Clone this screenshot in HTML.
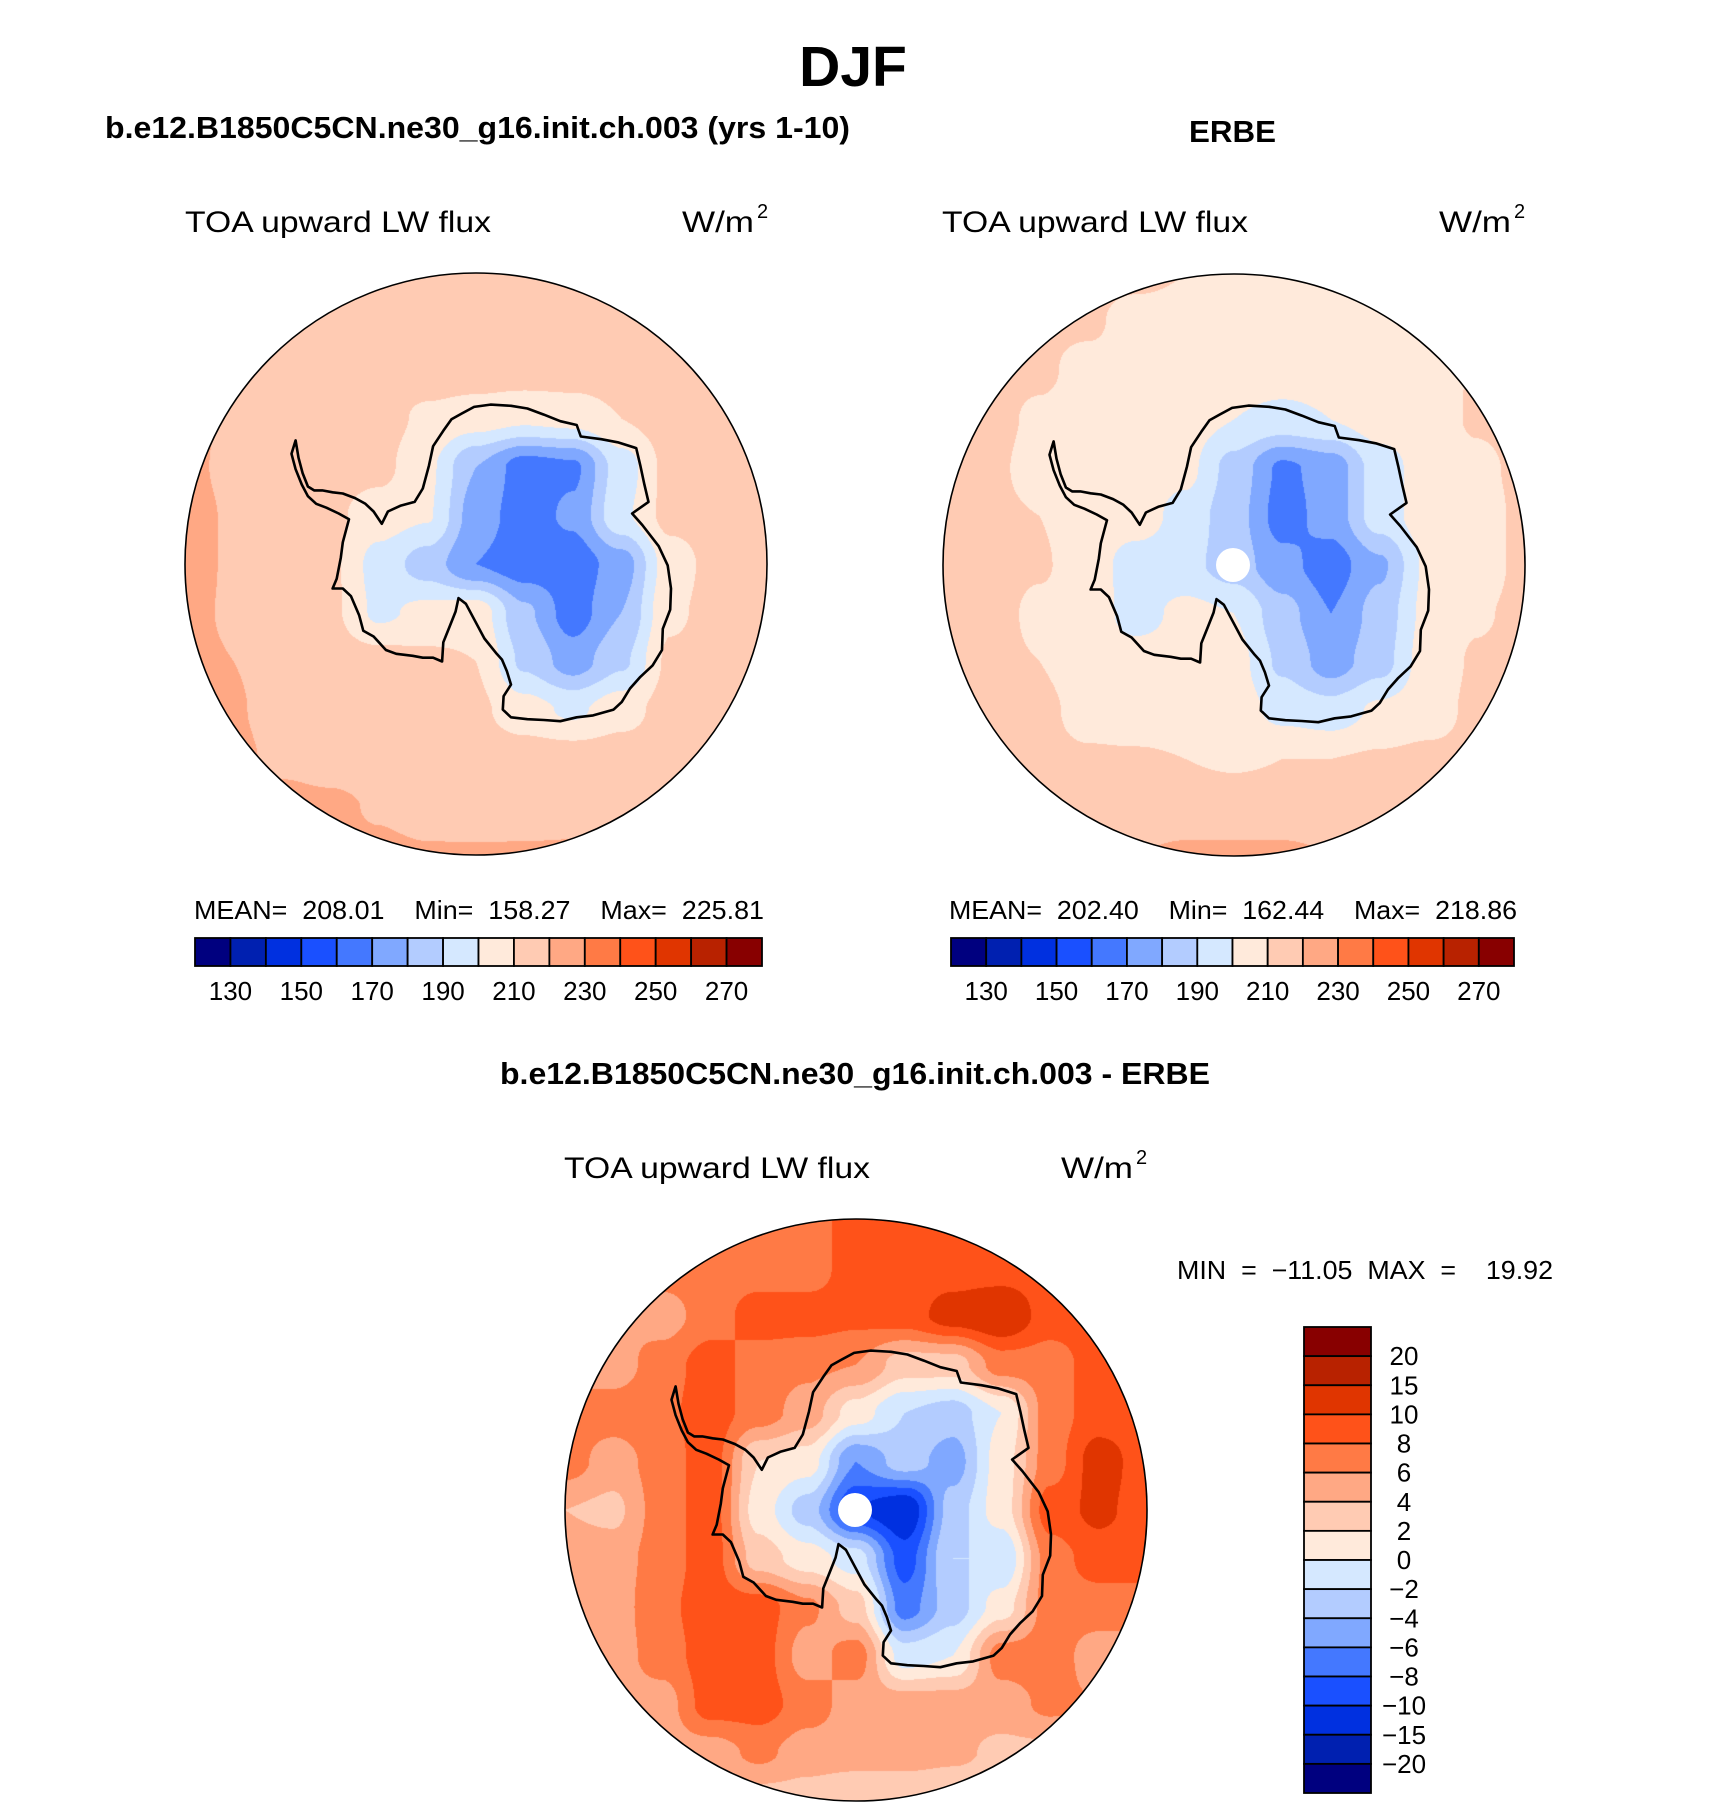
<!DOCTYPE html>
<html><head><meta charset="utf-8"><title>DJF TOA upward LW flux</title>
<style>
html,body{margin:0;padding:0;background:#fff;}
#root{position:relative;width:1710px;height:1806px;overflow:hidden;background:#fff;}
canvas{position:absolute;}
svg{position:absolute;left:0;top:0;}
text{font-family:"Liberation Sans",sans-serif;fill:#000;white-space:pre;}
.b{font-weight:bold;}
</style></head>
<body>
<div id="root">
<canvas id="mapL"></canvas>
<canvas id="mapR"></canvas>
<canvas id="mapD"></canvas>
<svg id="ov" width="1710" height="1806" viewBox="0 0 1710 1806">
<text x="853" y="86" text-anchor="middle" class="b" font-size="57">DJF</text>
<text x="105" y="138" class="b" font-size="31" textLength="745" lengthAdjust="spacingAndGlyphs">b.e12.B1850C5CN.ne30_g16.init.ch.003 (yrs 1-10)</text>
<text x="1189" y="142" class="b" font-size="31" textLength="87" lengthAdjust="spacingAndGlyphs">ERBE</text>
<text x="500" y="1084" class="b" font-size="31" textLength="710" lengthAdjust="spacingAndGlyphs">b.e12.B1850C5CN.ne30_g16.init.ch.003 - ERBE</text>

<text x="185" y="232" font-size="30" textLength="306" lengthAdjust="spacingAndGlyphs">TOA upward LW flux</text>
<text x="682" y="232" font-size="30" textLength="72" lengthAdjust="spacingAndGlyphs">W/m</text>
<text x="757" y="218" font-size="20">2</text>
<text x="942" y="232" font-size="30" textLength="306" lengthAdjust="spacingAndGlyphs">TOA upward LW flux</text>
<text x="1439" y="232" font-size="30" textLength="72" lengthAdjust="spacingAndGlyphs">W/m</text>
<text x="1514" y="218" font-size="20">2</text>
<text x="564" y="1178" font-size="30" textLength="306" lengthAdjust="spacingAndGlyphs">TOA upward LW flux</text>
<text x="1061" y="1178" font-size="30" textLength="72" lengthAdjust="spacingAndGlyphs">W/m</text>
<text x="1136" y="1164" font-size="20">2</text>

<text x="194" y="919" font-size="26" textLength="570" lengthAdjust="spacingAndGlyphs">MEAN=  208.01    Min=  158.27    Max=  225.81</text>
<text x="949" y="919" font-size="26" textLength="568" lengthAdjust="spacingAndGlyphs">MEAN=  202.40    Min=  162.44    Max=  218.86</text>
<text x="1177" y="1279" font-size="26" textLength="376" lengthAdjust="spacingAndGlyphs">MIN  =  −11.05  MAX  =    19.92</text>
<g id="overlayDyn"></g>
</svg>
</div>
<script>
// ---- data ----
const absColors = ["#00007f","#0020b0","#0030e0","#1a50ff","#4478ff","#80a8ff","#b3ccff","#d5e8ff","#ffeadb","#ffcbb3","#ffa884","#ff7a45","#ff5219","#e03500","#b82200","#880000"];
const absLevels = [130,140,150,160,170,180,190,200,210,220,230,240,250,260,270];
const absTickLabels = ["130","150","170","190","210","230","250","270"];
const diffLevels = [-20,-15,-10,-8,-6,-4,-2,0,2,4,6,8,10,15,20];
const diffTickLabels = ["20","15","10","8","6","4","2","0","−2","−4","−6","−8","−10","−15","−20"];

const modelGrid = [
[222,222,220,217,216,216,216,216,216,216,216,216,216],
[222,222,218,216,216,216,216,216,216,216,216,216,216],
[222,221,216,215,215,215,215,215,215,215,215,215,216],
[222,219,215,214,214,208,205,202,204,210,215,215,216],
[222,218,215,214,213,202,180,165,168,195,213,215,216],
[223,219,215,212,205,201,175,165,172,198,213,215,216],
[223,219,215,212,196,185,170,164,164,175,205,214,216],
[222,219,215,212,198,203,206,182,165,180,208,214,216],
[222,220,216,215,214,212,210,188,175,188,212,215,216],
[223,221,216,215,215,214,212,204,198,206,214,215,217],
[223,222,218,216,215,215,215,215,215,215,215,216,219],
[223,223,223,222,219,216,215,216,217,219,220,221,222],
[223,223,223,223,222,221,221,221,221,221,222,222,222]];

const erbeGrid = [
[213,213,213,213,213,210,206,206,206,206,206,207,208],
[212,212,212,212,205,205,205,205,205,205,205,206,207],
[213,213,212,206,205,205,205,205,205,205,205,211,212],
[213,213,208,205,205,205,200,197,200,205,206,211,213],
[213,212,206,205,205,203,186,168,174,195,205,208,212],
[213,212,210,205,205,196,184,166,174,195,205,206,212],
[213,213,211,205,195,193,185,173,165,178,202,206,212],
[213,213,208,205,196,203,200,184,170,184,203,209,212],
[213,212,210,205,205,205,204,188,175,186,205,211,213],
[213,213,212,207,205,205,205,197,194,202,206,212,213],
[213,213,212,211,211,210,209,210,210,211,212,212,213],
[214,214,214,214,214,214,214,214,214,214,214,214,214],
[218,218,218,218,220,222,222,222,220,218,218,218,218]];

const diffGrid = [
[8,8,8,8,8,8,8,8,8,8,8,8,8],
[7,7,7,7,7,7,9,9,9,9,9,9,9],
[6,6,5,7,9,9,8.5,9,11,12,9,9,9],
[5,5,7,9,7,6.5,6,3,3,7,7,9,9],
[7,7,7.5,9,7,5,1,-2,-3,0,7,9,9],
[7,5,7,9,2,1,-6,-3,-5,1,7,11,9],
[4,3.5,7,9,1,-3,-10,-12,-3,1,9,10.5,9],
[5,5,7,9,3,1,-1,-9,-2,-2,7,9,9],
[5,5,7.5,9,9,6.5,3,-7,-3,1,7,7,7],
[5,5,7,9,9,5,7,-1,0,7,7,5,5],
[5,5,5,9,9,7,5,5,5,5,6.5,6,6],
[5,5,5,5,6.5,5,5,5,4.5,3.5,3.5,3.5,3.5],
[3,3,3,3,3,3,2,2,2,2,3,3,3]];

// Antarctic coastline (traced, reference-pixel coordinates of the left panel)
const coastRaw = [[355,495],[362,540],[372,580],[385,615],[400,625],[420,625],[445,630],[470,633],[500,645],[525,660],[545,680],[565,712],[580,680],[610,665],[645,655],[665,620],[680,560],[690,510],[715,470],[735,440],[760,425],[790,408],[830,402],[880,405],[920,412],[960,428],[1000,445],[1040,455],[1050,485],[1100,492],[1140,500],[1185,515],[1195,560],[1205,610],[1215,655],[1175,685],[1200,715],[1240,770],[1262,820],[1270,880],[1268,935],[1250,985],[1248,1040],[1225,1080],[1195,1110],[1170,1140],[1150,1175],[1130,1195],[1080,1210],[1040,1215],[1000,1225],[960,1222],[920,1220],[880,1215],[860,1195],[862,1160],[880,1130],[870,1095],[858,1065],[845,1050],[815,1010],[790,960],[770,920],[752,905],[745,940],[730,980],[715,1020],[712,1070],[690,1060],[665,1060],[640,1055],[600,1050],[575,1040],[545,1005],[520,990],[510,950],[490,900],[470,880],[445,880],[455,855],[465,800],[470,760],[480,720],[485,700],[460,685],[430,670],[405,660],[385,640],[370,610],[355,570],[345,530]];

// ---- helpers ----
const R = 291;
const maps = [
 {id:"mapL", cx:476, cy:564, grid:modelGrid, levels:absLevels, dot:false, name:"model"},
 {id:"mapR", cx:1234, cy:565, grid:erbeGrid, levels:absLevels, dot:true, name:"erbe"},
 {id:"mapD", cx:856, cy:1510, grid:diffGrid, levels:diffLevels, dot:true, name:"difference"}
];
function hexToRgb(h){return [parseInt(h.substr(1,2),16),parseInt(h.substr(3,2),16),parseInt(h.substr(5,2),16)];}
const rgb = absColors.map(hexToRgb);
function levelIndex(v, levels){let k=0;while(k<levels.length && v>=levels[k])k++;return k;}
function sample(grid,u,v){
  const n=grid.length-1;
  let gx=(u+1)/2*n, gy=(v+1)/2*n;
  gx=Math.max(0,Math.min(n-1e-6,gx)); gy=Math.max(0,Math.min(n-1e-6,gy));
  const j=Math.floor(gx), i=Math.floor(gy);
  let fx=gx-j, fy=gy-i;
  fx=fx*fx*(3-2*fx); fy=fy*fy*(3-2*fy);
  const a=grid[i][j], b=grid[i][j+1], c=grid[i+1][j], d=grid[i+1][j+1];
  return (a*(1-fx)+b*fx)*(1-fy)+(c*(1-fx)+d*fx)*fy;
}
function coastUV(p){
  const x=150+p[0]/2.4375, y=250+p[1]/2.6;
  return [(x-476)/R,(y-564)/R];
}
const NS="http://www.w3.org/2000/svg";
const dyn=document.getElementById("overlayDyn");
function mk(tag,attrs){const e=document.createElementNS(NS,tag);for(const k in attrs)e.setAttribute(k,attrs[k]);return e;}

maps.forEach(m=>{
  const cv=document.getElementById(m.id);
  const S=2*R+4;
  cv.width=S; cv.height=S;
  cv.style.left=(m.cx-R-2)+"px"; cv.style.top=(m.cy-R-2)+"px";
  const ctx=cv.getContext("2d");
  const img=ctx.createImageData(S,S);
  for(let py=0;py<S;py++){
    for(let px=0;px<S;px++){
      const u=(px+0.5-2-R)/R, v=(py+0.5-2-R)/R;
      if(u*u+v*v>1.0) continue;
      const val=sample(m.grid,u,v);
      const c=rgb[levelIndex(val,m.levels)];
      const o=(py*S+px)*4;
      img.data[o]=c[0];img.data[o+1]=c[1];img.data[o+2]=c[2];img.data[o+3]=255;
    }
  }
  ctx.putImageData(img,0,0);
  const pts=coastRaw.map(p=>{const q=coastUV(p);return (m.cx+q[0]*R).toFixed(1)+","+(m.cy+q[1]*R).toFixed(1);});
  const coast=mk("polygon",{points:pts.join(" "),fill:"none",stroke:"#000","stroke-width":"2.6","stroke-linejoin":"round"});
  
  
  dyn.appendChild(coast);
  if(m.dot){
    const d=mk("circle",{cx:m.cx-1,cy:m.cy,r:17,fill:"#fff"});
    
    
    dyn.appendChild(d);
  }
  const ring=mk("circle",{cx:m.cx,cy:m.cy,r:R,fill:"none",stroke:"#000","stroke-width":"1.6"});
  
  
  dyn.appendChild(ring);
});

[{x0:195,x1:762,name:"left"},{x0:951,x1:1514,name:"right"}].forEach(cb=>{
  const y0=938,h=28,w=(cb.x1-cb.x0)/absColors.length;
  absColors.forEach((c,k)=>{
    const r=mk("rect",{x:cb.x0+k*w,y:y0,width:w,height:h,fill:c,stroke:"#000","stroke-width":"1.8"});
    
    
    dyn.appendChild(r);
  });
  absTickLabels.forEach((t,i)=>{
    const b=1+2*i;
    const tx=mk("text",{x:cb.x0+b*w,y:1000,"text-anchor":"middle","font-size":"26"});
    tx.textContent=t;
    
    
    dyn.appendChild(tx);
  });
});

(function(){
  const x0=1304,w=67,y0=1327,y1=1793,n=absColors.length,h=(y1-y0)/n;
  for(let k=0;k<n;k++){
    const r=mk("rect",{x:x0,y:y0+k*h,width:w,height:h,fill:absColors[n-1-k],stroke:"#000","stroke-width":"1.8"});
    
    
    dyn.appendChild(r);
  }
  diffTickLabels.forEach((t,i)=>{
    const tx=mk("text",{x:1404,y:y0+(i+1)*h+9,"text-anchor":"middle","font-size":"26"});
    tx.textContent=t;
    
    
    dyn.appendChild(tx);
  });
})();
</script>
</body></html>
